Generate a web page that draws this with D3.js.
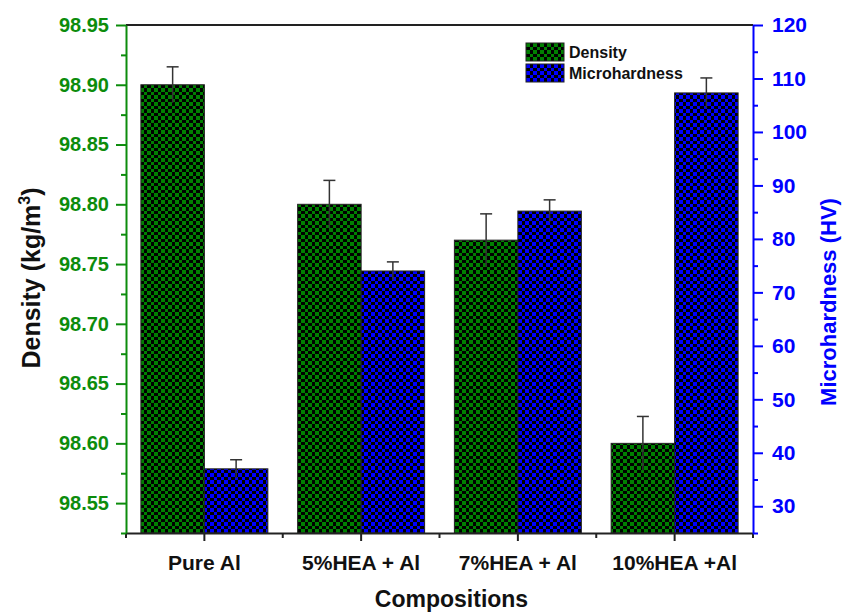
<!DOCTYPE html>
<html>
<head>
<meta charset="utf-8">
<script src="https://cdn.jsdelivr.net/npm/d3@7"></script>
<style>
  body { margin: 0; background: #fff; }
  text { font-family: "Liberation Sans", Arial, sans-serif; font-weight: bold; }
</style>
</head>
<body>
<script>
// data
var categories = ["Pure Al", "5%HEA + Al", "7%HEA + Al", "10%HEA +Al"];
var density = [98.90, 98.80, 98.77, 98.60];
var densityErr = [0.015, 0.020, 0.022, 0.0225];
var hardness = [37.0, 74.0, 85.2, 107.3];
var hardnessErr = [1.7, 1.7, 2.1, 2.8];
var densityTicks = [98.55, 98.60, 98.65, 98.70, 98.75, 98.80, 98.85, 98.90, 98.95];
var densityMinor = [98.525, 98.575, 98.625, 98.675, 98.725, 98.775, 98.825, 98.875, 98.925];
var hardnessTicks = [30, 40, 50, 60, 70, 80, 90, 100, 110, 120];
var hardnessMinor = [25, 35, 45, 55, 65, 75, 85, 95, 105, 115];

var green = "#0c8c0c", blue = "#0000ff";

var margin = {top: 25, right: 98, bottom: 80, left: 126},
    width = 851 - margin.left - margin.right,
    height = 613 - margin.top - margin.bottom;

var svg = d3.select("body").append("svg")
    .attr("width", 851)
    .attr("height", 613);

// checker patterns for the bars
var defs = svg.append("defs");
function checker(id, col) {
  var p = defs.append("pattern")
      .attr("id", id)
      .attr("patternUnits", "userSpaceOnUse")
      .attr("width", 7).attr("height", 7);
  p.append("rect").attr("width", 7).attr("height", 7).attr("fill", "#000");
  p.append("rect").attr("width", 3.5).attr("height", 3.5).attr("fill", col).attr("shape-rendering", "crispEdges");
  p.append("rect").attr("x", 3.5).attr("y", 3.5).attr("width", 3.5).attr("height", 3.5).attr("fill", col).attr("shape-rendering", "crispEdges");
}
checker("chkG", "#008000");
checker("chkB", "#0000ff");

var g = svg.append("g")
    .attr("transform", "translate(" + margin.left + "," + margin.top + ")");

var x = d3.scaleBand().domain(categories).range([0, width]).paddingInner(0.19).paddingOuter(0.095);
var sub = d3.scaleBand().domain(["d", "h"]).range([0, x.bandwidth()]);
var yL = d3.scaleLinear().domain([98.525, 98.95]).range([height, 0]);
var yR = d3.scaleLinear().domain([25, 120]).range([height, 0]);

// bars
g.selectAll(".dbar")
    .data(density)
  .enter().append("rect")
    .attr("class", "dbar")
    .attr("x", function(d, i) { return x(categories[i]) + sub("d"); })
    .attr("width", sub.bandwidth())
    .attr("y", function(d) { return yL(d); })
    .attr("height", function(d) { return height - yL(d); })
    .attr("fill", "url(#chkG)")
    .attr("stroke", "#222").attr("stroke-width", 1);

g.selectAll(".hbar")
    .data(hardness)
  .enter().append("rect")
    .attr("class", "hbar")
    .attr("x", function(d, i) { return x(categories[i]) + sub("h"); })
    .attr("width", sub.bandwidth())
    .attr("y", function(d) { return yR(d); })
    .attr("height", function(d) { return height - yR(d); })
    .attr("fill", "url(#chkB)")
    .attr("stroke", "#222").attr("stroke-width", 1);

// error bars (cap on top only)
function errBars(vals, errs, scale, key) {
  vals.forEach(function(v, i) {
    var cx = x(categories[i]) + sub(key) + sub.bandwidth() / 2;
    g.append("line")
        .attr("x1", cx).attr("x2", cx)
        .attr("y1", scale(v - errs[i])).attr("y2", scale(v + errs[i]))
        .attr("stroke", "#333").attr("stroke-width", 1.5);
    g.append("line")
        .attr("x1", cx - 6).attr("x2", cx + 6)
        .attr("y1", scale(v + errs[i])).attr("y2", scale(v + errs[i]))
        .attr("stroke", "#333").attr("stroke-width", 1.5);
  });
}
errBars(density, densityErr, yL, "d");
errBars(hardness, hardnessErr, yR, "h");

// top frame line
g.append("line")
    .attr("x1", 0).attr("x2", width).attr("y1", 0).attr("y2", 0)
    .attr("stroke", "#222").attr("stroke-width", 2);

// x axis: major ticks at centres, minor at band edges
var xAxis = g.append("g")
    .attr("transform", "translate(0," + height + ")")
    .call(d3.axisBottom(x).tickSize(8).tickSizeOuter(0));
xAxis.select(".domain").attr("stroke", "#222").attr("stroke-width", 2);
xAxis.selectAll(".tick line").attr("stroke", "#222").attr("stroke-width", 2);
xAxis.selectAll(".tick text")
    .attr("y", 22)
    .attr("fill", "#111")
    .style("font-size", "21px");
var step = width / categories.length;
var xMinor = d3.range(categories.length + 1).map(function(i) { return i * step; });
g.selectAll(".xminor")
    .data(xMinor)
  .enter().append("line")
    .attr("x1", function(d) { return d; }).attr("x2", function(d) { return d; })
    .attr("y1", height).attr("y2", height + 5)
    .attr("stroke", "#222").attr("stroke-width", 2);

// left axis
var leftAxis = g.append("g")
    .call(d3.axisLeft(yL).tickValues(densityTicks).tickFormat(d3.format(".2f")).tickSize(10).tickSizeOuter(0).tickPadding(7));
leftAxis.select(".domain").attr("stroke", green).attr("stroke-width", 2);
leftAxis.selectAll(".tick line").attr("stroke", green).attr("stroke-width", 2);
leftAxis.selectAll(".tick text").attr("fill", green).style("font-size", "20px");
g.append("g")
    .call(d3.axisLeft(yL).tickValues(densityMinor).tickFormat("").tickSize(5).tickSizeOuter(0))
    .call(function(a) { a.select(".domain").remove(); a.selectAll("line").attr("stroke", green).attr("stroke-width", 2); });

// right axis
var rightAxis = g.append("g")
    .attr("transform", "translate(" + width + ",0)")
    .call(d3.axisRight(yR).tickValues(hardnessTicks).tickSize(10).tickSizeOuter(0).tickPadding(9));
rightAxis.select(".domain").attr("stroke", blue).attr("stroke-width", 2);
rightAxis.selectAll(".tick line").attr("stroke", blue).attr("stroke-width", 2);
rightAxis.selectAll(".tick text").attr("fill", blue).style("font-size", "21px");
g.append("g")
    .attr("transform", "translate(" + width + ",0)")
    .call(d3.axisRight(yR).tickValues(hardnessMinor).tickFormat("").tickSize(5).tickSizeOuter(0))
    .call(function(a) { a.select(".domain").remove(); a.selectAll("line").attr("stroke", blue).attr("stroke-width", 2); });

// axis titles
svg.append("text")
    .attr("transform", "translate(40,278) rotate(-90)")
    .style("text-anchor", "middle")
    .style("font-size", "25px")
    .attr("fill", "#111")
    .html('Density (kg/m<tspan dy="-10" font-size="16px">3</tspan><tspan dy="10">)</tspan>');

svg.append("text")
    .attr("transform", "translate(836,302) rotate(-90)")
    .style("text-anchor", "middle")
    .style("font-size", "22px")
    .attr("fill", blue)
    .text("Microhardness (HV)");

svg.append("text")
    .attr("x", margin.left + width / 2 + 12)
    .attr("y", 607)
    .style("text-anchor", "middle")
    .style("font-size", "23px")
    .attr("fill", "#111")
    .text("Compositions");

// legend
var legendItems = [["Density", "url(#chkG)"], ["Microhardness", "url(#chkB)"]];
var lg = svg.append("g").attr("transform", "translate(526,43)");
legendItems.forEach(function(it, i) {
  lg.append("rect")
      .attr("x", 0).attr("y", i * 21)
      .attr("width", 38).attr("height", 18)
      .attr("fill", it[1])
      .attr("stroke", "#222").attr("stroke-width", 1);
  lg.append("text")
      .attr("x", 43).attr("y", i * 21 + 15)
      .style("font-size", "16px")
      .attr("fill", "#111")
      .text(it[0]);
});
</script>
</body>
</html>
